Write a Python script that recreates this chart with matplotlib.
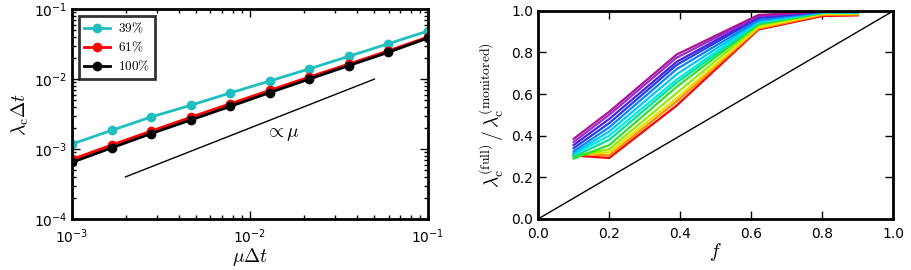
import matplotlib
matplotlib.use("Agg")
import matplotlib.pyplot as plt

plt.rcParams["mathtext.fontset"] = "cm"
plt.rcParams["font.size"] = 10

# ── Left panel data: lambda_c * dt vs mu * dt ────────────────────────────────
mu_dt = [1.0e-3, 1.67e-3, 2.78e-3, 4.64e-3, 7.74e-3,
         1.29e-2, 2.15e-2, 3.59e-2, 5.99e-2, 1.0e-1]
lam_39 = [1.18e-3, 1.85e-3, 2.87e-3, 4.22e-3, 6.33e-3,
          9.4e-3, 1.40e-2, 2.12e-2, 3.21e-2, 4.87e-2]
lam_61 = [7.1e-4, 1.14e-3, 1.80e-3, 2.84e-3, 4.44e-3,
          6.9e-3, 1.07e-2, 1.64e-2, 2.54e-2, 4.0e-2]
lam_100 = [6.45e-4, 1.04e-3, 1.66e-3, 2.60e-3, 4.07e-3,
           6.4e-3, 1.0e-2, 1.56e-2, 2.42e-2, 3.87e-2]
series_labels = [r"$39\%$", r"$61\%$", r"$100\%$"]

guide_x = [2e-3, 5e-2]
guide_y = [4e-4, 1e-2]

# ── Right panel data: ratio vs f, one curve per parameter value ──────────────
f_vals = [0.1, 0.2, 0.39, 0.62, 0.8, 0.9]
ratio_curves = [  # bottom (red) to top (magenta)
    [0.305, 0.293, 0.545, 0.910, 0.975, 0.978],
    [0.315, 0.305, 0.565, 0.915, 0.980, 0.982],
    [0.310, 0.320, 0.580, 0.920, 0.985, 0.985],
    [0.300, 0.335, 0.605, 0.930, 0.988, 0.988],
    [0.290, 0.355, 0.635, 0.935, 0.990, 0.990],
    [0.300, 0.380, 0.655, 0.940, 0.990, 0.990],
    [0.310, 0.400, 0.670, 0.945, 0.993, 0.992],
    [0.315, 0.420, 0.695, 0.950, 0.994, 0.993],
    [0.325, 0.440, 0.720, 0.955, 0.995, 0.994],
    [0.340, 0.460, 0.740, 0.965, 0.996, 0.995],
    [0.355, 0.480, 0.755, 0.970, 0.997, 0.995],
    [0.370, 0.500, 0.775, 0.975, 0.998, 0.996],
    [0.385, 0.515, 0.790, 0.980, 0.998, 0.996],
]
curve_colors = ["#ff0000", "#ff8c00", "#e8e000", "#90ee00", "#30e030",
                "#00e090", "#00e8e8", "#00c8f0", "#1080ff", "#2040e8",
                "#5020e0", "#9030d0", "#b0158f"]


def style_axes(ax):
    for s in ax.spines.values():
        s.set_linewidth(2)
    ax.tick_params(which="both", direction="in", top=True, right=True)
    ax.tick_params(which="major", length=6, width=1)
    ax.tick_params(which="minor", length=3, width=1)
    ax.tick_params(axis="x", pad=6)


fig = plt.figure(figsize=(9.12, 2.70), dpi=100)

# ── Left panel ───────────────────────────────────────────────────────────────
ax1 = fig.add_axes([0.0789, 0.189, 0.3904, 0.777])
for y, c, lab in zip([lam_39, lam_61, lam_100], ["#1fbfbf", "#ff0000", "#000000"], series_labels):
    ax1.plot(mu_dt, y, color=c, lw=2, marker="o", ms=6, mec=c, label=lab)
ax1.plot(guide_x, guide_y, color="black", lw=1)
ax1.text(1.52e-2, 1.67e-3, r"$\propto\mu$", fontsize=14, ha="center", va="center")
ax1.set_xscale("log")
ax1.set_yscale("log")
ax1.set_xlim(1e-3, 1e-1)
ax1.set_ylim(1e-4, 1e-1)
ax1.set_xlabel(r"$\mu\Delta t$", fontsize=14, labelpad=0)
ax1.set_ylabel(r"$\lambda_{\rm c}\Delta t$", fontsize=14, labelpad=2)
style_axes(ax1)
leg = ax1.legend(loc="upper left", fontsize=9.5, handlelength=2.0,
                 fancybox=False, borderaxespad=0.5, labelspacing=0.35,
                 borderpad=0.4, handletextpad=0.6)
leg.get_frame().set_edgecolor("black")
leg.get_frame().set_linewidth(2)

# ── Right panel ──────────────────────────────────────────────────────────────
ax2 = fig.add_axes([0.590, 0.189, 0.3897, 0.771])
ax2.plot([0, 1], [0, 1], color="black", lw=1)
for vals, c in zip(ratio_curves, curve_colors):
    ax2.plot(f_vals, vals, color=c, lw=1.6)
ax2.set_xlim(0, 1)
ax2.set_ylim(0, 1)
ax2.set_xticks([0.0, 0.2, 0.4, 0.6, 0.8, 1.0])
ax2.set_yticks([0.0, 0.2, 0.4, 0.6, 0.8, 1.0])
ax2.set_xlabel(r"$f$", fontsize=14, labelpad=0)
ax2.set_ylabel(r"$\lambda_{\rm c}^{\rm (full)}\,/\,\lambda_{\rm c}^{\rm (monitored)}$",
               fontsize=14, labelpad=4)
style_axes(ax2)

fig.savefig("out.png", dpi=100)
